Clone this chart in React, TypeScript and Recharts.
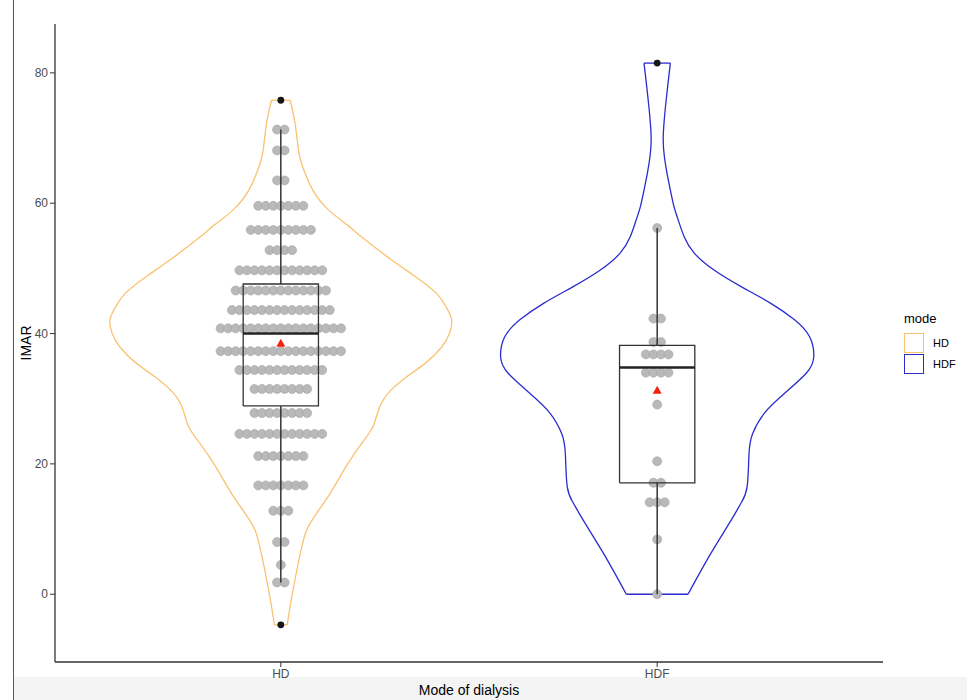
import React from "react";
import { ComposedChart, Scatter, XAxis, YAxis, Legend, Label } from "recharts";

const FONT = "'Liberation Sans', Arial, sans-serif";

const groups = ["HD", "HDF"];
const groupColors = ["#F9C273", "#2B2BCF"];

// dotplot rows: bin value and number of stacked dots
const hdDotValues = [71.3, 68.1, 63.5, 59.6, 55.9, 52.8, 49.7, 46.6, 43.6, 40.8, 37.3, 34.4, 31.5, 27.8, 24.6, 21.2, 16.7, 12.8, 8.0, 4.5, 1.8];
const hdDotCounts = [2, 2, 2, 7, 9, 4, 12, 13, 14, 17, 17, 12, 8, 8, 12, 7, 7, 3, 2, 1, 2];
const hdfDotValues = [56.2, 42.3, 38.7, 36.8, 34.0, 29.1, 20.4, 17.1, 14.1, 8.4, 0];
const hdfDotCounts = [1, 2, 2, 4, 4, 1, 1, 2, 3, 1, 1];

// box stats: lower whisker, Q1, median, Q3, upper whisker
const hdBox = [1.8, 28.9, 40.0, 47.6, 71.3];
const hdfBox = [0, 17.1, 34.8, 38.2, 56.2];
const groupMeans = [38.5, 31.3];
const hdOutliers = [75.8, -4.7];
const hdfOutliers = [81.5];

// violin outline: value and half width (x-axis units)
const hdViolinY = [75.8, 72.2, 68.1, 65.6, 62.0, 58.9, 56.6, 54.8, 51.4, 48.8, 46.2, 44.0, 42.1, 40.0, 37.9, 35.5, 33.3, 30.7, 28.0, 25.5, 23.0, 20.3, 17.7, 15.1, 12.5, 9.9, 7.3, 4.7, 2.0, -0.4, -4.7];
const hdViolinHalf = [0.025, 0.038, 0.047, 0.058, 0.085, 0.128, 0.178, 0.215, 0.292, 0.356, 0.413, 0.44, 0.454, 0.448, 0.427, 0.385, 0.333, 0.283, 0.258, 0.243, 0.213, 0.181, 0.154, 0.127, 0.096, 0.069, 0.056, 0.046, 0.037, 0.029, 0.017];
const hdfViolinY = [81.5, 78.0, 74.8, 72.2, 69.7, 67.2, 64.6, 62.0, 59.4, 57.4, 54.8, 52.3, 49.7, 47.2, 44.6, 42.1, 39.5, 36.4, 33.9, 30.8, 27.8, 24.7, 21.6, 16.5, 14.0, 11.4, 6.3, 0];
const hdfViolinHalf = [0.035, 0.028, 0.022, 0.018, 0.016, 0.019, 0.026, 0.035, 0.045, 0.056, 0.072, 0.099, 0.152, 0.223, 0.303, 0.365, 0.405, 0.416, 0.396, 0.338, 0.285, 0.254, 0.244, 0.239, 0.223, 0.197, 0.143, 0.082];

const yTicks = [0, 20, 40, 60, 80];

const DOT_STEP = 0.02;
const BOX_HALF = 0.1;

type Pt = { x: number; y: number };

function dotRows(center: number, values: number[], counts: number[]): Pt[] {
  const out: Pt[] = [];
  values.forEach((v, r) => {
    const n = counts[r];
    for (let i = 0; i < n; i++) out.push({ x: center + (i - (n - 1) / 2) * DOT_STEP, y: v });
  });
  return out;
}

function violinSide(center: number, ys: number[], half: number[], sign: number): Pt[] {
  return ys.map((v, i) => ({ x: center + sign * half[i], y: v }));
}

function capLine(center: number, v: number, h: number): Pt[] {
  return [{ x: center - h, y: v }, { x: center + h, y: v }];
}

function boxRect(center: number, b: number[]): Pt[] {
  return [
    { x: center - BOX_HALF, y: b[1] },
    { x: center + BOX_HALF, y: b[1] },
    { x: center + BOX_HALF, y: b[3] },
    { x: center - BOX_HALF, y: b[3] },
    { x: center - BOX_HALF, y: b[1] },
  ];
}

const violins = [
  { c: 1, ys: hdViolinY, w: hdViolinHalf, color: groupColors[0] },
  { c: 2, ys: hdfViolinY, w: hdfViolinHalf, color: groupColors[1] },
];
const boxes = [
  { c: 1, b: hdBox },
  { c: 2, b: hdfBox },
];

const dots = [...dotRows(1, hdDotValues, hdDotCounts), ...dotRows(2, hdfDotValues, hdfDotCounts)];
const meanPts = groupMeans.map((m, i) => ({ x: i + 1, y: m }));
const outlierPts = [...hdOutliers.map((v) => ({ x: 1, y: v })), ...hdfOutliers.map((v) => ({ x: 2, y: v }))];

const NoShape = () => <g />;

const GrayDot = (p: any) => (
  <circle cx={p.cx} cy={p.cy} r={4.5} fill="#B9B9B9" stroke="#A3A3A3" strokeWidth={0.6} />
);
const MeanMark = (p: any) => (
  <polygon
    points={`${p.cx},${p.cy - 4.5} ${p.cx - 4.5},${p.cy + 3.5} ${p.cx + 4.5},${p.cy + 3.5}`}
    fill="#F2200C"
  />
);
const OutlierDot = (p: any) => <circle cx={p.cx} cy={p.cy} r={3.4} fill="#151515" />;

const LegendBox = () => (
  <div style={{ fontFamily: FONT, color: "#000" }}>
    <div style={{ fontSize: 13, lineHeight: "16px", marginBottom: 5 }}>mode</div>
    {groups.map((g, i) => (
      <div key={g} style={{ display: "flex", alignItems: "center", height: 21 }}>
        <span
          style={{
            width: 20,
            height: 20,
            boxSizing: "border-box",
            border: `1px solid ${groupColors[i]}`,
            background: "#fff",
            marginRight: 9,
          }}
        />
        <span style={{ fontSize: 11 }}>{g}</span>
      </div>
    ))}
  </div>
);

const axisLine = { stroke: "#333", strokeWidth: 1.3 };
const tickStyle = { fill: "#4D4D4D", fontSize: 12, fontFamily: FONT };

export default function App() {
  return (
    <div style={{ position: "fixed", left: 0, top: 0, width: 967, height: 700, background: "#fff", overflow: "hidden" }}>
      <div style={{ position: "absolute", left: 14, top: 677, width: 953, height: 23, background: "#F4F4F4" }} />
      <div style={{ position: "absolute", left: 13, top: 0, width: 1, height: 700, background: "#555" }} />
      <div style={{ position: "absolute", left: 0, top: 0 }}>
        <ComposedChart width={967} height={700} margin={{ top: 24, right: 84, bottom: 8, left: 15 }}>
          <XAxis
            dataKey="x"
            type="number"
            domain={[0.4, 2.6]}
            ticks={[1, 2]}
            allowDataOverflow
            tickFormatter={(v: number) => groups[v - 1]}
            axisLine={axisLine}
            tickLine={{ stroke: "#333" }}
            tickSize={5}
            tickMargin={2}
            tick={tickStyle}
            height={30}
          >
            <Label
              content={(p: any) => {
                const vb = p.viewBox || { x: 55, y: 662, width: 828, height: 30 };
                return (
                  <text x={vb.x + vb.width / 2} y={vb.y + 28} textAnchor="middle" dominantBaseline="central" fontSize={14} fontFamily={FONT} fill="#000">
                    Mode of dialysis
                  </text>
                );
              }}
            />
          </XAxis>
          <YAxis
            dataKey="y"
            type="number"
            domain={[-10.4, 87.5]}
            ticks={yTicks}
            allowDataOverflow
            axisLine={axisLine}
            tickLine={{ stroke: "#333" }}
            tickSize={5}
            tickMargin={2}
            tick={tickStyle}
            width={40}
          >
            <Label
              content={(p: any) => {
                const vb = p.viewBox || { x: 15, y: 24, width: 40, height: 638 };
                const cx = vb.x + 11;
                const cy = vb.y + vb.height / 2;
                return (
                  <text x={cx} y={cy} transform={`rotate(-90 ${cx} ${cy})`} textAnchor="middle" dominantBaseline="central" fontSize={14} fontFamily={FONT} fill="#000">
                    IMAR
                  </text>
                );
              }}
            />
          </YAxis>
          <Legend
            layout="horizontal"
            verticalAlign="middle"
            align="center"
            content={() => <LegendBox />}
            wrapperStyle={{ position: "absolute", left: 904, top: 311, width: 60 }}
          />

          {violins.map((vl, i) => (
            <Scatter
              key={`vr${i}`}
              data={violinSide(vl.c, vl.ys, vl.w, 1)}
              shape={NoShape}
              fill={vl.color}
              line={{ stroke: vl.color, strokeWidth: 1.3 }}
              lineJointType="natural"
              isAnimationActive={false}
            />
          ))}
          {violins.map((vl, i) => (
            <Scatter
              key={`vl${i}`}
              data={violinSide(vl.c, vl.ys, vl.w, -1)}
              shape={NoShape}
              fill={vl.color}
              line={{ stroke: vl.color, strokeWidth: 1.3 }}
              lineJointType="natural"
              isAnimationActive={false}
            />
          ))}
          {violins.map((vl, i) => (
            <Scatter
              key={`vt${i}`}
              data={capLine(vl.c, vl.ys[0], vl.w[0])}
              shape={NoShape}
              fill={vl.color}
              line={{ stroke: vl.color, strokeWidth: 1.3 }}
              isAnimationActive={false}
            />
          ))}
          {violins.map((vl, i) => (
            <Scatter
              key={`vb${i}`}
              data={capLine(vl.c, vl.ys[vl.ys.length - 1], vl.w[vl.w.length - 1])}
              shape={NoShape}
              fill={vl.color}
              line={{ stroke: vl.color, strokeWidth: 1.3 }}
              isAnimationActive={false}
            />
          ))}

          <Scatter data={dots} shape={GrayDot} isAnimationActive={false} />

          {boxes.map((bx, i) => (
            <Scatter
              key={`wu${i}`}
              data={[{ x: bx.c, y: bx.b[3] }, { x: bx.c, y: bx.b[4] }]}
              shape={NoShape}
              fill="#333"
              line={{ stroke: "#333", strokeWidth: 1.5 }}
              isAnimationActive={false}
            />
          ))}
          {boxes.map((bx, i) => (
            <Scatter
              key={`wl${i}`}
              data={[{ x: bx.c, y: bx.b[1] }, { x: bx.c, y: bx.b[0] }]}
              shape={NoShape}
              fill="#333"
              line={{ stroke: "#333", strokeWidth: 1.5 }}
              isAnimationActive={false}
            />
          ))}
          {boxes.map((bx, i) => (
            <Scatter
              key={`bx${i}`}
              data={boxRect(bx.c, bx.b)}
              shape={NoShape}
              fill="#333"
              line={{ stroke: "#333", strokeWidth: 1.3 }}
              isAnimationActive={false}
            />
          ))}
          {boxes.map((bx, i) => (
            <Scatter
              key={`md${i}`}
              data={capLine(bx.c, bx.b[2], BOX_HALF)}
              shape={NoShape}
              fill="#222"
              line={{ stroke: "#222", strokeWidth: 2.4 }}
              isAnimationActive={false}
            />
          ))}

          <Scatter data={meanPts} shape={MeanMark} isAnimationActive={false} />
          <Scatter data={outlierPts} shape={OutlierDot} isAnimationActive={false} />
        </ComposedChart>
      </div>
    </div>
  );
}
